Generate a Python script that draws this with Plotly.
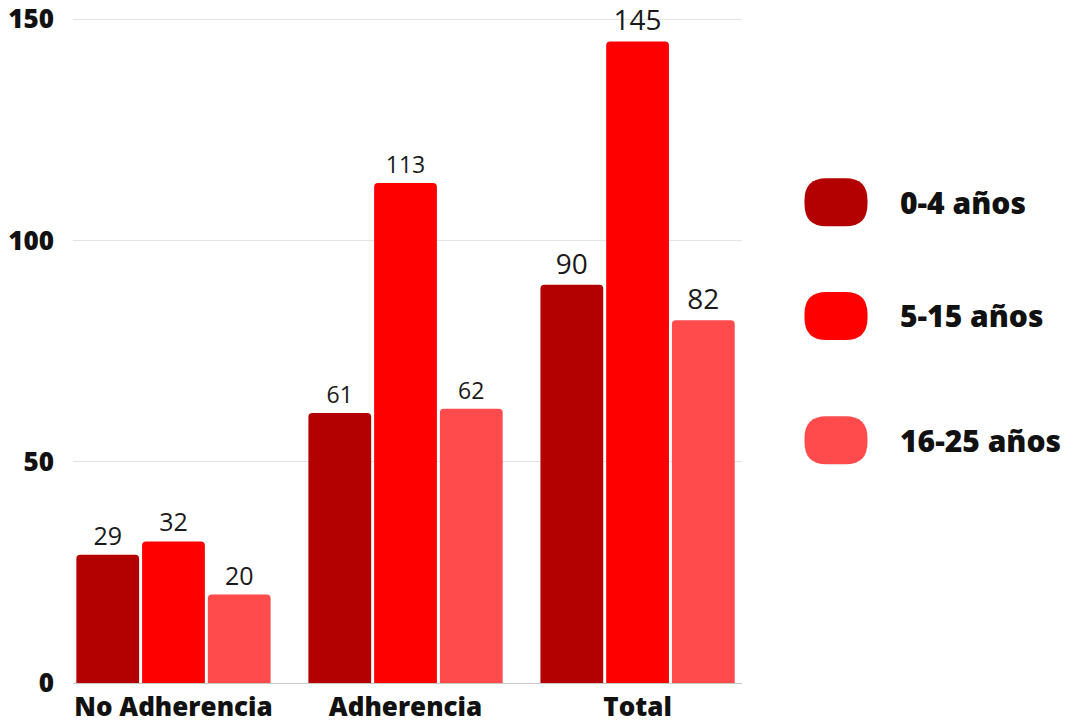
import plotly.graph_objects as go

# Categories and series values
categories = ["No Adherencia", "Adherencia", "Total"]
series_names = ["0-4 años", "5-15 años", "16-25 años"]
values_0_4 = [29, 61, 90]
values_5_15 = [32, 113, 145]
values_16_25 = [20, 62, 82]
y_ticks = [0, 50, 100, 150]

series_values = [values_0_4, values_5_15, values_16_25]
colors = ["#B30000", "#FF0000", "#FF4B4B"]
# label sizes per category (the Total group uses larger numbers)
label_sizes = [25, 23, 28]

fig = go.Figure()
for name, vals, col in zip(series_names, series_values, colors):
    fig.add_trace(go.Bar(
        x=categories, y=vals, name=name,
        marker=dict(color=col, line=dict(width=0)),
        text=[str(v) for v in vals], textposition="outside",
        textfont=dict(family="Open Sans", size=label_sizes, color="#1a1a1a"),
        cliponaxis=False, showlegend=False,
    ))

# Custom pill-shaped legend on the right
legend_y = [0.723, 0.552, 0.365]
pill = ("M -9.5,-24 L 9.5,-24 Q 31.5,-24 31.5,-2 L 31.5,2 Q 31.5,24 9.5,24 "
        "L -9.5,24 Q -31.5,24 -31.5,2 L -31.5,-2 Q -31.5,-24 -9.5,-24 Z")
for name, col, yy in zip(series_names, colors, legend_y):
    fig.add_shape(type="path", path=pill, xref="paper", yref="paper",
                  xsizemode="pixel", ysizemode="pixel",
                  xanchor=1.1405, yanchor=yy,
                  fillcolor=col, line=dict(width=0))
    fig.add_annotation(text=name, xref="paper", yref="paper",
                       x=1.233, y=yy, xanchor="left", yanchor="middle",
                       showarrow=False,
                       font=dict(family="Open Sans", size=30, color="#111111", weight=800))

fig.update_layout(
    width=1070, height=724,
    margin=dict(l=73, r=328, t=18, b=41, autoexpand=False),
    paper_bgcolor="white", plot_bgcolor="white",
    barmode="group", bargap=0.15, bargroupgap=0.045,
    barcornerradius=4,
    xaxis=dict(range=[-0.433, 2.450], showgrid=False, showline=False,
               automargin=False, ticks="", ticklabelstandoff=6,
               tickfont=dict(family="Open Sans", size=26, color="#111111", weight=800)),
    yaxis=dict(range=[0, 150.3], tickvals=y_ticks, showgrid=True,
               gridcolor="#E3E3E3", gridwidth=1, zeroline=True,
               zerolinecolor="#C8C8C8", zerolinewidth=1, showline=False,
               automargin=False, ticks="", ticklabelstandoff=18,
               ticklabeloverflow="allow",
               tickfont=dict(family="Open Sans", size=26, color="#111111", weight=800)),
)

fig.write_html("out.html")
